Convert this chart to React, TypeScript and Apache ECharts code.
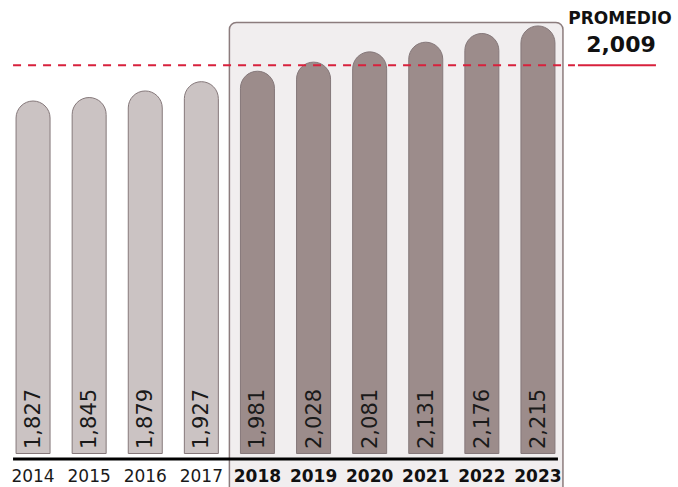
import React, { useEffect, useRef } from "react";
import * as echarts from "echarts";

const years = ["2014", "2015", "2016", "2017", "2018", "2019", "2020", "2021", "2022", "2023"];
const values = [1827, 1845, 1879, 1927, 1981, 2028, 2081, 2131, 2176, 2215];
const highlightYears = ["2018", "2019", "2020", "2021", "2022", "2023"];
const averageValue = 2009;
const averageTitle = "PROMEDIO";

const FONT = "DejaVu Sans";
const LIGHT = "#cbc3c3";
const DARK = "#9c8c8b";
const BORDER = "#85787a";
const RED = "#d8213c";

const fmt = (v: number) => v.toLocaleString("en-US");

export default function App() {
  const ref = useRef<HTMLDivElement>(null);
  useEffect(() => {
    if (!ref.current) return;
    const chart = echarts.init(ref.current, null, { renderer: "svg" });
    chart.setOption({
      animation: false,
      grid: { left: 5, right: 112, top: 9, bottom: 33, containLabel: false },
      xAxis: {
        type: "category",
        data: years,
        axisLine: { show: false },
        axisTick: { show: false },
        axisLabel: {
          interval: 0,
          margin: 13,
          formatter: (v: string) => (highlightYears.includes(v) ? `{b|${v}}` : `{n|${v}}`),
          rich: {
            n: { fontFamily: FONT, fontSize: 17, color: "#1a1a1a" },
            b: { fontFamily: FONT, fontSize: 17, fontWeight: "bold", color: "#111" },
          },
        },
      },
      yAxis: {
        type: "value",
        min: 0,
        max: 2300,
        show: false,
        splitLine: { show: false },
      },
      series: [
        {
          type: "bar",
          z: 2,
          barWidth: 35,
          data: values.map((v, i) => ({
            value: v,
            itemStyle: {
              color: highlightYears.includes(years[i]) ? DARK : LIGHT,
            },
          })),
          itemStyle: {
            borderColor: BORDER,
            borderWidth: 1,
            borderRadius: [17.5, 17.5, 0, 0],
          },
          label: {
            show: true,
            position: "insideBottom",
            rotate: 90,
            align: "left",
            verticalAlign: "middle",
            distance: 5,
            formatter: (p: any) => fmt(p.value),
            fontFamily: FONT,
            fontSize: 21,
            color: "#1a1a1a",
          },
        },
      ],
    });

    const px = (cat: string) => chart.convertToPixel({ xAxisIndex: 0 }, cat) as number;
    const py = (v: number) => chart.convertToPixel({ yAxisIndex: 0 }, v) as number;
    const xFirst = px(years[0]);
    const xLast = px(years[years.length - 1]);
    const xHiStart = (px(years[years.indexOf(highlightYears[0]) - 1]) + px(highlightYears[0])) / 2;
    const yZero = py(0);
    const yMaxTop = py(Math.max(...values)) - 3;
    const yAvg = py(averageValue);

    chart.setOption({
      graphic: [
        {
          type: "rect",
          z: 0,
          shape: { x: xHiStart, y: yMaxTop, width: xLast + 25 - xHiStart, height: 487 - yMaxTop + 10, r: 7 },
          style: { fill: "#f1eeef", stroke: "#8c7c7d", lineWidth: 1.5 },
        },
        {
          type: "line",
          z: 10,
          shape: { x1: xFirst - 20, y1: yZero + 5, x2: xLast + 20, y2: yZero + 5 },
          style: { stroke: "#000", lineWidth: 3 },
        },
        {
          type: "line",
          z: 10,
          shape: { x1: xFirst - 20, y1: yAvg, x2: xLast + 37, y2: yAvg },
          style: { stroke: RED, lineWidth: 2, lineDash: [8, 7] },
        },
        {
          type: "line",
          z: 10,
          shape: { x1: xLast + 40, y1: yAvg, x2: xLast + 118, y2: yAvg },
          style: { stroke: RED, lineWidth: 2 },
        },
        {
          type: "text",
          z: 10,
          x: xLast + 82,
          y: 18,
          style: {
            text: averageTitle,
            fontFamily: FONT,
            fontSize: 17,
            fontWeight: "bold",
            fill: "#111",
            align: "center",
            verticalAlign: "middle",
          },
        },
        {
          type: "text",
          z: 10,
          x: xLast + 83,
          y: 44,
          style: {
            text: fmt(averageValue),
            fontFamily: FONT,
            fontSize: 22,
            fontWeight: "bold",
            fill: "#111",
            align: "center",
            verticalAlign: "middle",
          },
        },
      ],
    });

    return () => chart.dispose();
  }, []);
  return (
    <div
      ref={ref}
      style={{ position: "absolute", left: 0, top: 0, width: 678, height: 487, background: "#fff" }}
    />
  );
}
